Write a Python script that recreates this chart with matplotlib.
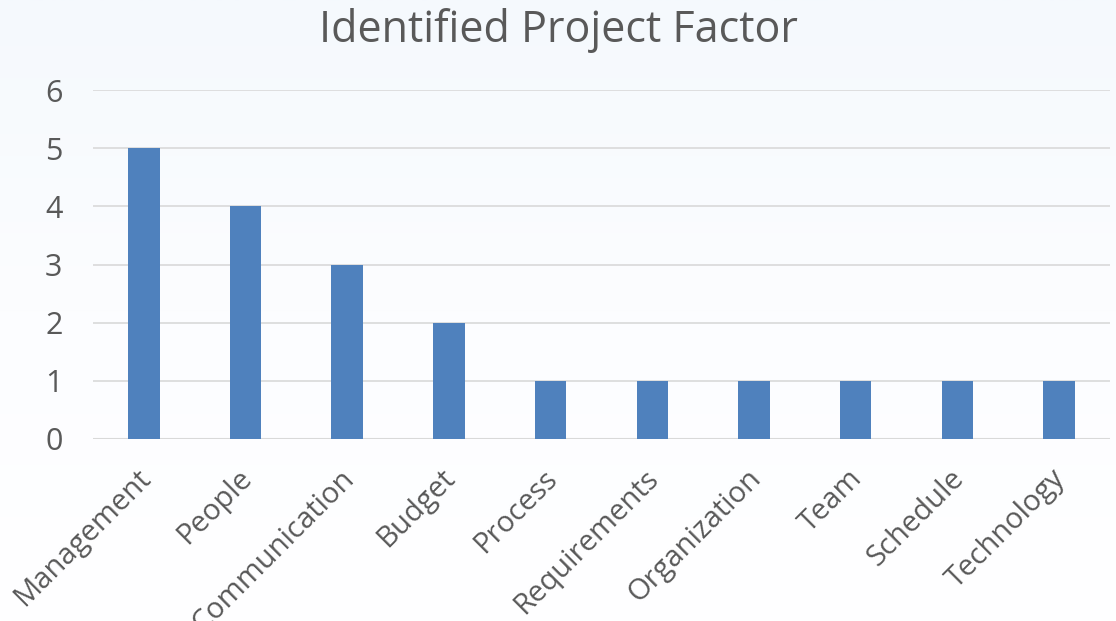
import numpy as np
import matplotlib.pyplot as plt
from matplotlib.colors import LinearSegmentedColormap
from matplotlib.transforms import ScaledTranslation

categories = ["Management", "People", "Communication", "Budget", "Process",
              "Requirements", "Organization", "Team", "Schedule", "Technology"]
counts = [5, 4, 3, 2, 1, 1, 1, 1, 1, 1]
y_ticks = [0, 1, 2, 3, 4, 5, 6]

plt.rcParams['font.family'] = ['Open Sans', 'DejaVu Sans']
text_color = "#595959"

fig = plt.figure(figsize=(11.16, 6.21), dpi=100)

# faint blue-to-white background gradient near the top
bg = fig.add_axes([0, 0, 1, 1], zorder=-10)
grad = np.linspace(0, 1, 256).reshape(-1, 1)
bg.imshow(grad, aspect="auto",
          cmap=LinearSegmentedColormap.from_list("bg", ["#f5f9fd", "#fcfdff", "#ffffff"]),
          extent=[0, 1, 0, 1], origin="upper")
bg.axis("off")

ax = fig.add_axes([0.0833, 0.2931, 0.9113, 0.5619])
ax.patch.set_alpha(0)
x = np.arange(len(categories))
ax.bar(x, counts, width=0.31, color="#4f81bd", zorder=3)

ax.set_xlim(-0.5, len(categories) - 0.5)
ax.set_ylim(0, 6)
ax.set_yticks(y_ticks)
ax.yaxis.grid(True, color="#d9d9d9", linewidth=1.2, zorder=0)
ax.set_axisbelow(True)
for s in ["top", "right", "left", "bottom"]:
    ax.spines[s].set_visible(False)
ax.axhline(0, color="#d9d9d9", linewidth=1.5, zorder=1)

ax.tick_params(axis="both", length=0, colors=text_color, labelsize=21)
ax.tick_params(axis="y", labelsize=22, pad=22)
ax.set_xticks(x)
ax.set_xticklabels(categories, rotation=45, ha="right", rotation_mode="anchor")
ax.tick_params(axis="x", pad=18)

# nudge rotated labels slightly left, like the original
shift = ScaledTranslation(-8 / 100, 0, fig.dpi_scale_trans)
for lbl in ax.get_xticklabels():
    lbl.set_transform(lbl.get_transform() + shift)

fig.text(0.5, 0.932, "Identified Project Factor", ha="center", va="baseline",
         fontsize=31, color=text_color)

fig.savefig("out.png", dpi=100)
